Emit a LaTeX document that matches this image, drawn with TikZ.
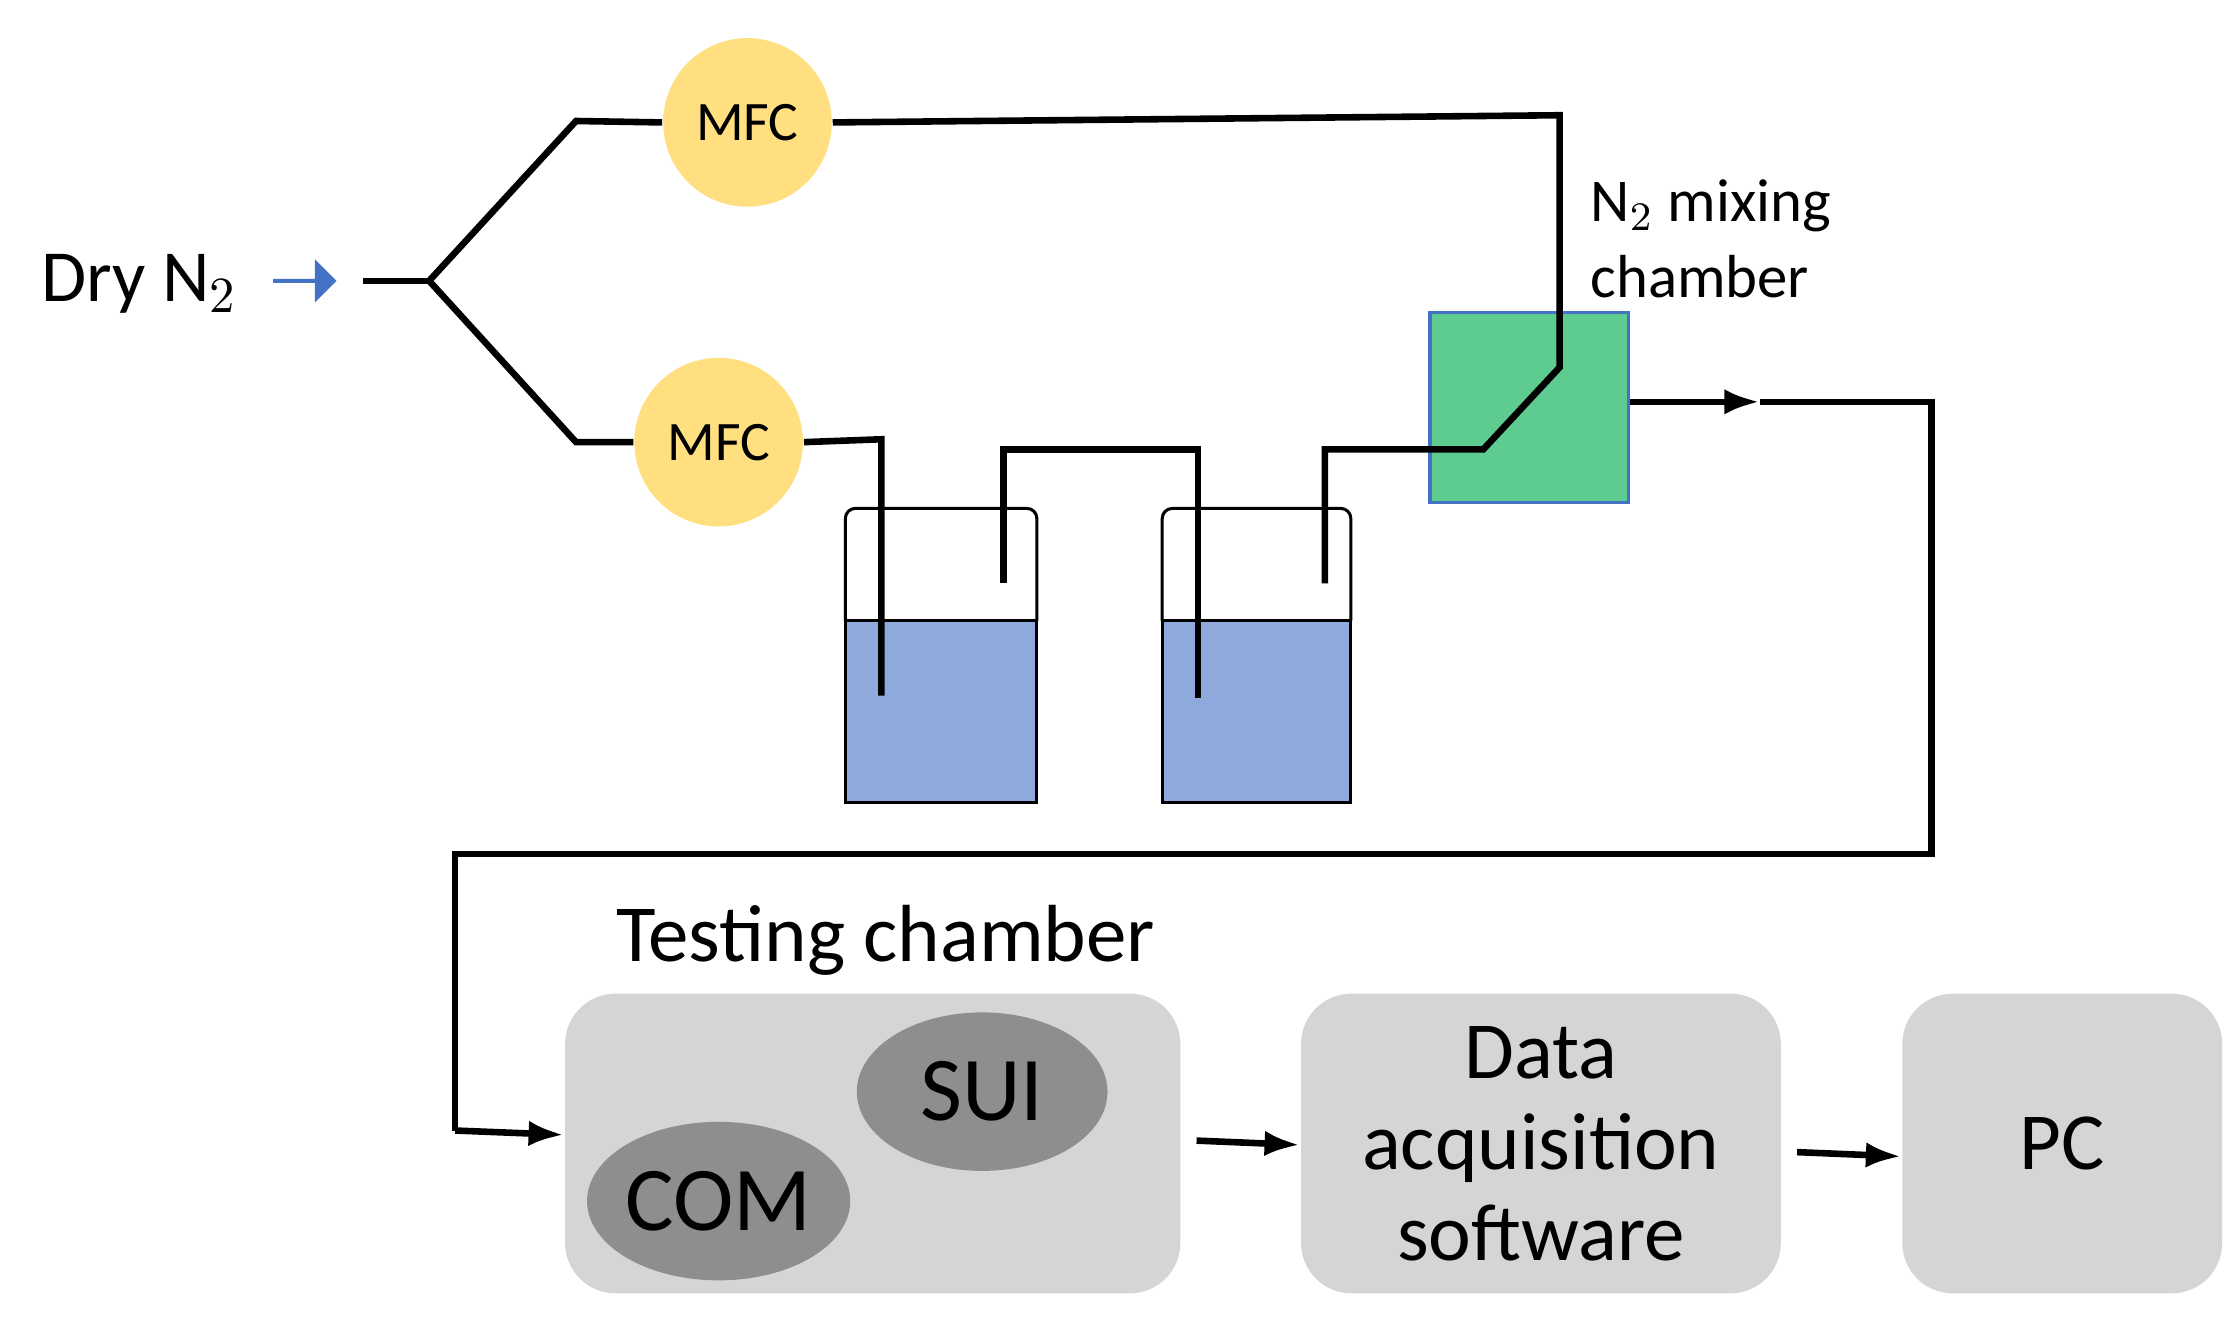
\documentclass[tikz,border=0pt]{standalone}
\usepackage{fontspec}
\setmainfont{Carlito}
\usetikzlibrary{arrows.meta,shapes.arrows,shapes.geometric}
\begin{document}
\begin{tikzpicture}[x=0.01cm,y=-0.01cm,
  pipe/.style={line width=1.3pt,black},
  mfc/.style={circle,fill=mfcc,minimum size=1.17cm,inner sep=0pt,font=\fontsize{11}{13}\selectfont},
  box/.style={rounded corners=0.35cm,fill=boxg,draw=none},
  blob/.style={ellipse,fill=blobg,minimum width=1.74cm,minimum height=1.1cm,inner sep=0pt,font=\fontsize{18}{20}\selectfont},
  arr/.style={pipe,-{Latex[length=7pt,width=5pt]}},
  big/.style={font=\fontsize{16}{19}\selectfont}]
\definecolor{mfcc}{HTML}{FFDF80}
\definecolor{boxg}{HTML}{D6D5D6}
\definecolor{blobg}{HTML}{8E8E8E}
\definecolor{water}{HTML}{8EAADC}
\definecolor{mixg}{HTML}{5ECB90}
\definecolor{bluea}{HTML}{4472C4}
\useasboundingbox (0,0) rectangle (1545,920);
% text
\node[font=\fontsize{14.5}{16}\selectfont] (dry) at (97,197) {Dry N$_2$};
\node[single arrow,fill=bluea,minimum height=0.44cm,minimum width=0.3cm,single arrow head extend=2pt,inner sep=0pt] (inarr) at (211,195) {};
\coordinate (sp) at (298,195);
\node[mfc] (m1) at (519,85) {MFC};
\node[mfc] (m2) at (499,307) {MFC};
% bottles
\fill[water] (587,431) rectangle (720,557);
\draw[line width=0.6pt,rounded corners=2pt] (587,431) -- (587,353) -- (720,353) -- (720,431);
\draw[line width=0.6pt] (587,431) rectangle (720,557);
\fill[water] (807,431) rectangle (938,557);
\draw[line width=0.6pt,rounded corners=2pt] (807,431) -- (807,353) -- (938,353) -- (938,431);
\draw[line width=0.6pt] (807,431) rectangle (938,557);
% mixing chamber
\node[draw=bluea,fill=mixg,line width=0.6pt,minimum width=1.38cm,minimum height=1.32cm,inner sep=0pt] (mix) at (1062,283) {};
\node[anchor=west,align=left,font=\fontsize{12}{15}\selectfont] (mixl) at (1092,166) {N$_2$ mixing\\chamber};
% pipes
\draw[pipe] ([xshift=5pt]inarr.east) -- (sp);
\draw[pipe] (sp) -- (400,84) -- (m1.west);
\draw[pipe] (sp) -- (400,307) -- (m2.west);
\draw[pipe] (m1.east) -- (1083,80) -- (1083,255) -- (1030,312) -- (920,312) -- (920,405);
\draw[pipe] (m2.east) -- (612,305) -- (612,483);
\draw[pipe] (697,405) -- (697,312) -- (832,312) -- (832,485);
\coordinate (oa) at (1222,279);
\draw[arr] (mix.east |- oa) -- (oa);
% testing chamber etc
\node[box,minimum width=4.27cm,minimum height=2.08cm] (tc) at (606,794) {};
\node[big] (tcl) at (615,653) {Testing chamber};
\node[blob] (sui) at (682,758) {SUI};
\node[blob] (com) at (499,834) {COM};
\node[box,minimum width=3.33cm,minimum height=2.08cm,big,align=center] (daq) at (1070,794) {Data\\[-1pt]acquisition\\[-1pt]software};
\node[box,minimum width=2.22cm,minimum height=2.08cm,big] (pc) at (1432,794) {PC};
\coordinate (t1) at (316,785);
\coordinate (h1) at (0,788);
\coordinate (h2) at (0,795);
\coordinate (h3) at (0,803);
\draw[pipe] (oa) -- (1341,279) -- (1341,593) -- (316,593) -- (t1);
\draw[arr] (t1) -- (tc.west |- h1);
\draw[arr] ([xshift=3pt]tc.east |- 0,792) -- (daq.west |- h2);
\draw[arr] ([xshift=3pt]daq.east |- 0,800) -- (pc.west |- h3);
\end{tikzpicture}
\end{document}
